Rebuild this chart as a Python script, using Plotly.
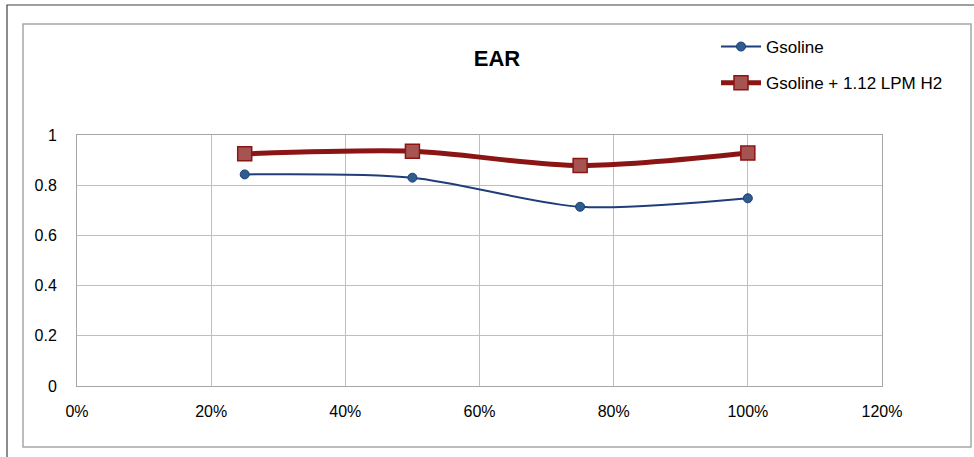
import plotly.graph_objects as go

load = [0.25, 0.50, 0.75, 1.00]
gasoline = [0.843, 0.830, 0.714, 0.748]
gasoline_h2 = [0.925, 0.935, 0.878, 0.928]
x_ticks = [0, 0.2, 0.4, 0.6, 0.8, 1.0, 1.2]
x_labels = ["0%", "20%", "40%", "60%", "80%", "100%", "120%"]
y_ticks = [0, 0.2, 0.4, 0.6, 0.8, 1]
y_labels = ["0", "0.2", "0.4", "0.6", "0.8", "1"]

W, H = 974, 457
L, R, T, B = 77, 882, 135, 386

def px(x):
    return (x - L) / (R - L)

def py(y):
    return (B - y) / (B - T)

FONT = "Liberation Sans, Arial"

fig = go.Figure()
fig.add_trace(go.Scatter(
    x=load, y=gasoline, name="Gsoline", mode="lines+markers",
    line=dict(color="#1F3E79", width=2, shape="spline", smoothing=0.8),
    marker=dict(symbol="circle", size=9, color="#2C5D8C", line=dict(color="#1F3E79", width=1)),
    legendgroup="a",
))
fig.add_trace(go.Scatter(
    x=load, y=gasoline_h2, name="Gsoline + 1.12 LPM H2", mode="lines+markers",
    line=dict(color="#8B1515", width=5, shape="spline", smoothing=0.8),
    marker=dict(symbol="square", size=14, color="#A65452", line=dict(color="#8B1515", width=1.5)),
    legendgroup="b",
))

shapes = [
    dict(type="rect", xref="paper", yref="paper", x0=px(7), x1=px(990), y0=py(5), y1=py(480),
         line=dict(color="#404040", width=1.2), fillcolor="rgba(0,0,0,0)", layer="below"),
    dict(type="rect", xref="paper", yref="paper", x0=px(23), x1=px(971), y0=py(24), y1=py(447),
         line=dict(color="#A6A6A6", width=1.5), fillcolor="rgba(0,0,0,0)", layer="below"),
]

fig.update_layout(
    width=W, height=H,
    margin=dict(l=L, r=W - R, t=T, b=H - B),
    paper_bgcolor="white", plot_bgcolor="white",
    font=dict(family=FONT, size=15, color="#000000"),
    title=dict(text="<b>EAR</b>", x=px(497), y=1 - 58 / H, xanchor="center", yanchor="middle",
               xref="paper", yref="container",
               font=dict(family=FONT, size=22, color="#000000")),
    showlegend=True,
    legend=dict(x=px(716), y=py(29), xanchor="left", yanchor="top",
                bgcolor="rgba(0,0,0,0)", tracegroupgap=11,
                font=dict(family=FONT, size=17, color="#000000"),
                itemwidth=40),
    xaxis=dict(range=[0, 1.2], tickvals=x_ticks, ticktext=x_labels,
               showgrid=True, gridcolor="#BFBFBF", gridwidth=1,
               showline=True, linecolor="#A6A6A6", mirror=True, linewidth=1,
               zeroline=False, ticks="", ticklabelstandoff=11,
               tickfont=dict(family=FONT, size=16)),
    yaxis=dict(range=[0, 1], tickvals=y_ticks, ticktext=y_labels,
               showgrid=True, gridcolor="#BFBFBF", gridwidth=1,
               showline=True, linecolor="#A6A6A6", mirror=True, linewidth=1,
               zeroline=False, ticks="", ticklabelstandoff=16,
               tickfont=dict(family=FONT, size=16)),
    shapes=shapes,
)

fig.write_html("out.html")
